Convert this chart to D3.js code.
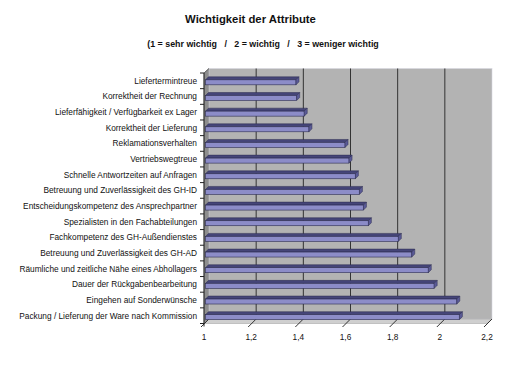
<!DOCTYPE html>
<html><head><meta charset="utf-8">
<script src="https://cdn.jsdelivr.net/npm/d3@7"></script>
<style>
html,body{margin:0;padding:0;background:#fff;}
svg{display:block;font-family:Arial,"Liberation Sans",sans-serif;}
</style></head>
<body>
<svg id="c" width="506" height="365"></svg>
<script>
const titleText = "Wichtigkeit der Attribute";
const subtitleText = "(1 = sehr wichtig   /   2 = wichtig   /   3 = weniger wichtig";
const categories = [
  "Liefertermintreue",
  "Korrektheit der Rechnung",
  "Lieferfähigkeit / Verfügbarkeit ex Lager",
  "Korrektheit der Lieferung",
  "Reklamationsverhalten",
  "Vertriebswegtreue",
  "Schnelle Antwortzeiten auf Anfragen",
  "Betreuung und Zuverlässigkeit des GH-ID",
  "Entscheidungskompetenz des Ansprechpartner",
  "Spezialisten in den Fachabteilungen",
  "Fachkompetenz des GH-Außendienstes",
  "Betreuung und Zuverlässigkeit des GH-AD",
  "Räumliche und zeitliche Nähe eines Abhollagers",
  "Dauer der Rückgabenbearbeitung",
  "Eingehen auf Sonderwünsche",
  "Packung / Lieferung der Ware nach Kommission"
];
const values = [1.39, 1.393, 1.425, 1.445, 1.598, 1.615, 1.642, 1.659,
                1.676, 1.697, 1.824, 1.881, 1.951, 1.976, 2.072, 2.083];
const tickValues = [1, 1.2, 1.4, 1.6, 1.8, 2, 2.2];
const tickLabels = ["1", "1,2", "1,4", "1,6", "1,8", "2", "2,2"];

const svg = d3.select("#c");
const x = d3.scaleLinear().domain([1, 2.2]).range([204, 487]);
const y = d3.scaleBand().domain(categories).range([73, 323.5]).padding(0);
const DX = 5, DY = -4.5;
const x0 = x.range()[0], x1 = x.range()[1];
const yT = y.range()[0], yB = y.range()[1];

// left side wall
svg.append("polygon")
  .attr("points", [[x0,yT],[x0+DX,yT+DY],[x0+DX,yB+DY],[x0,yB]].map(p=>p.join(",")).join(" "))
  .attr("fill", "#8e8e8e").attr("stroke", "#6a6a6a").attr("stroke-width", 0.5);
// back wall
svg.append("rect")
  .attr("x", x0+DX).attr("y", yT+DY).attr("width", x1-x0).attr("height", yB-yT)
  .attr("fill", "#b3b3b3").attr("stroke", "#d8d8e0").attr("stroke-width", 0.6);
// floor
svg.append("polygon")
  .attr("points", [[x0,yB],[x0+DX,yB+DY],[x1+DX,yB+DY],[x1,yB]].map(p=>p.join(",")).join(" "))
  .attr("fill", "#cfcfcf").attr("stroke", "#9a9a9a").attr("stroke-width", 0.5);

// back-wall gridlines
svg.append("g").selectAll("line").data(tickValues.slice(1, -1)).join("line")
  .attr("x1", d => x(d)+DX).attr("x2", d => x(d)+DX)
  .attr("y1", yT+DY).attr("y2", yB+DY)
  .attr("stroke", "#333").attr("stroke-width", 1);

// x ticks on floor (slanted)
svg.append("g").selectAll("line").data(tickValues).join("line")
  .attr("x1", d => x(d)+DX).attr("y1", yB+DY)
  .attr("x2", d => x(d)-3).attr("y2", yB+3.5)
  .attr("stroke", "#333").attr("stroke-width", 1);

// y axis line and ticks
svg.append("line").attr("x1", x0).attr("x2", x0).attr("y1", yT).attr("y2", yB+3)
  .attr("stroke", "#222").attr("stroke-width", 1);
const bounds = categories.map(c => y(c)).concat([yB]);
svg.append("g").selectAll("line").data(bounds).join("line")
  .attr("x1", x0-4).attr("x2", x0).attr("y1", d => d).attr("y2", d => d)
  .attr("stroke", "#222").attr("stroke-width", 1);
svg.append("line").attr("x1", x0).attr("y1", yT).attr("x2", x0+DX).attr("y2", yT+DY)
  .attr("stroke", "#555").attr("stroke-width", 0.8);

// bars (3D boxes)
const bd = 3; // bar depth offset
const g = svg.append("g");
categories.forEach((c, i) => {
  const yc = y(c) + y.bandwidth()/2;
  const xs = x0 + 1.5, xe = x(values[i]);
  const ft = yc - 1, fb = yc + 4;
  // top face
  g.append("polygon")
    .attr("points", [[xs,ft],[xs+bd,ft-bd],[xe+bd,ft-bd],[xe,ft]].map(p=>p.join(",")).join(" "))
    .attr("fill", "#454578").attr("stroke", "#2c2c50").attr("stroke-width", 0.5);
  // front face
  g.append("rect").attr("x", xs).attr("y", ft).attr("width", xe - xs).attr("height", fb - ft)
    .attr("fill", "#8c8cc8").attr("stroke", "#2c2c50").attr("stroke-width", 0.6);
  // end face
  g.append("polygon")
    .attr("points", [[xe,ft],[xe+bd,ft-bd],[xe+bd,fb-bd],[xe,fb]].map(p=>p.join(",")).join(" "))
    .attr("fill", "#5a5a96").attr("stroke", "#2c2c50").attr("stroke-width", 0.5);
});

// category labels
const labels = svg.append("g").selectAll("text").data(categories).join("text")
  .attr("x", 197).attr("y", d => y(d) + y.bandwidth()/2)
  .attr("dy", "0.35em").attr("text-anchor", "end")
  .attr("font-size", 9).attr("fill", "#111").text(d => d);
// fit font size so longest label spans target width
let maxW = 0; labels.each(function(){ maxW = Math.max(maxW, this.getComputedTextLength()); });
const fs = 9 * 178 / maxW;
labels.attr("font-size", fs);

// x tick labels
svg.append("g").selectAll("text").data(tickValues).join("text")
  .attr("x", d => x(d)).attr("y", 337).attr("dy", "0.35em")
  .attr("text-anchor", "middle").attr("font-size", fs).attr("fill", "#111")
  .text((d, i) => tickLabels[i]);

// title
const t = svg.append("text").attr("x", 250.5).attr("y", 19).attr("dy", "0.35em")
  .attr("text-anchor", "middle").attr("font-weight", "bold").attr("font-size", 12)
  .attr("fill", "#111").text(titleText);
t.attr("font-size", 12 * 131 / t.node().getComputedTextLength());
const s = svg.append("text").attr("x", 263).attr("y", 44).attr("dy", "0.35em")
  .attr("text-anchor", "middle").attr("font-weight", "bold").attr("font-size", 9)
  .attr("fill", "#111").style("white-space", "pre").text(subtitleText);
s.attr("font-size", 9 * 232 / s.node().getComputedTextLength());
</script>
</body></html>
